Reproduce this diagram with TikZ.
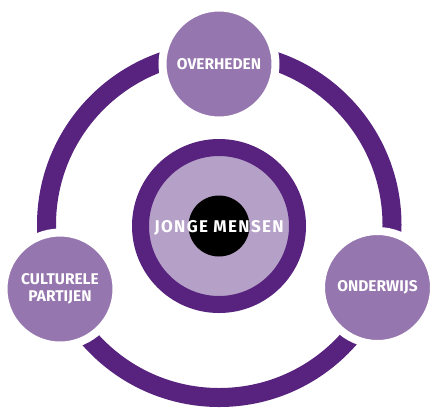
\documentclass[tikz,border=0pt]{standalone}
\usepackage{fontspec}
\setsansfont{Fira Sans}
\newfontfamily\hubfont{Fira Sans}[LetterSpace=8]
\definecolor{ringpurple}{RGB}{87,35,126}
\definecolor{midpurple}{RGB}{150,118,174}
\definecolor{lightpurple}{RGB}{181,160,200}

\begin{document}
\begin{tikzpicture}[x=1pt,y=-1pt,
				partner/.style={circle, fill=midpurple, draw=white, line width=8pt,
					minimum size=113pt, inner sep=0pt, align=center, text=white,
					font=\sffamily\bfseries\fontsize{15.5}{16.5}\selectfont}]
				\useasboundingbox (0,0) rectangle (430,408);
				\coordinate (middle) at (219.25,224.75);
				\draw[ringpurple, line width=19pt] (middle) circle[radius=172.75];
				\node[partner] (overheden) at (219,64) {OVERHEDEN};
				\node[partner] (culturele) at (60,289) {CULTURELE\\PARTIJEN};
				\node[partner] (onderwijs) at (377.5,287.5) {ONDERWIJS};
				\node[circle, fill=lightpurple, draw=ringpurple, line width=17pt,
					minimum size=157pt, inner sep=0pt] (hub) at (219,226) {};
				\node[circle, fill=black, minimum size=61pt, inner sep=0pt] (core) at (hub) {};
				\node[text=white, font=\hubfont\bfseries\fontsize{17}{18}\selectfont] (jongeren) at (219,228) {JONGE MENSEN};
			\end{tikzpicture}
\end{document}
